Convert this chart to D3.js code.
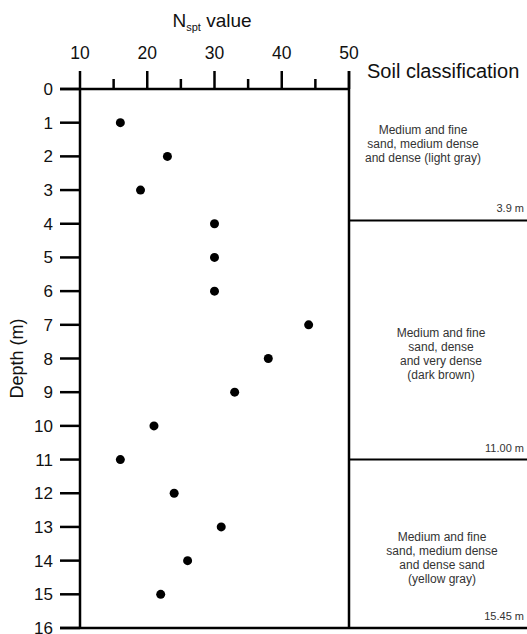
<!DOCTYPE html>
<html>
<head>
<meta charset="utf-8">
<script src="https://cdn.jsdelivr.net/npm/d3@7"></script>
<style>
	body { margin: 0; background: #fff; }
	text { font-family: "Liberation Sans", Arial, sans-serif; fill: #111; }
</style>
</head>
<body>
<svg id="chart" width="527" height="634"></svg>
<script>
// data
var depths = [1, 2, 3, 4, 5, 6, 7, 8, 9, 10, 11, 12, 13, 14, 15];
var nspt = [16, 23, 19, 30, 30, 30, 44, 38, 33, 21, 16, 24, 31, 26, 22];
var xTicks = [10, 20, 30, 40, 50];
var xMinor = [15, 25, 35, 45];
var yTicks = d3.range(0, 17);
var layerBottoms = [3.9, 11.0, 16];
var layerLabels = ['3.9 m', '11.00 m', '15.45 m'];
var layerTexts = [
	['Medium and fine', 'sand, medium dense', 'and dense (light gray)'],
	['Medium and fine', 'sand, dense', 'and very dense', '(dark brown)'],
	['Medium and fine', 'sand, medium dense', 'and dense sand', '(yellow gray)']
];
var layerTextTop = [1.34, 7.36, 13.42];
var layerTextX = [423, 441, 442];

(function () {
	var svg = d3.select('#chart');
	var pLeft = 80, pRight = 349, pTop = 89, pBottom = 628;

	var x = d3.scaleLinear().domain([10, 50]).range([pLeft, pRight]);
	var y = d3.scaleLinear().domain([0, 16]).range([pTop, pBottom]);

	var g = svg.append('g').attr('stroke', '#000').attr('stroke-width', 2.5);

	// top axis, major + minor ticks
	g.append('line').attr('x1', 60).attr('x2', pRight).attr('y1', pTop).attr('y2', pTop);
	g.selectAll('.maj').data(xTicks).enter().append('line')
		.attr('x1', function(d) { return x(d); }).attr('x2', function(d) { return x(d); })
		.attr('y1', pTop).attr('y2', pTop - 18);
	g.selectAll('.min').data(xMinor).enter().append('line')
		.attr('x1', function(d) { return x(d); }).attr('x2', function(d) { return x(d); })
		.attr('y1', pTop).attr('y2', pTop - 10);

	// left axis
	g.append('line').attr('x1', pLeft).attr('x2', pLeft).attr('y1', pTop).attr('y2', pBottom);
	g.selectAll('.yt').data(yTicks).enter().append('line')
		.attr('x1', 60).attr('x2', pLeft)
		.attr('y1', function(d) { return y(d); }).attr('y2', function(d) { return y(d); });

	// right border and bottom
	g.append('line').attr('x1', pRight).attr('x2', pRight).attr('y1', pTop - 18).attr('y2', pBottom);
	g.append('line').attr('x1', 60).attr('x2', 527).attr('y1', pBottom).attr('y2', pBottom);

	// layer boundaries
	g.selectAll('.lb').data(layerBottoms.slice(0, 2)).enter().append('line')
		.attr('stroke-width', 2)
		.attr('x1', pRight).attr('x2', 527)
		.attr('y1', function(d) { return y(d); }).attr('y2', function(d) { return y(d); });

	// tick labels
	svg.selectAll('.xl').data(xTicks).enter().append('text')
		.attr('x', function(d) { return x(d); }).attr('y', 59)
		.attr('text-anchor', 'middle').attr('font-size', 17.5)
		.text(function(d) { return d; });
	svg.selectAll('.yl').data(yTicks).enter().append('text')
		.attr('x', 53).attr('y', function(d) { return y(d) + 6; })
		.attr('text-anchor', 'end').attr('font-size', 17)
		.text(function(d) { return d; });

	// titles
	var t = svg.append('text').attr('x', 212).attr('y', 27).attr('text-anchor', 'middle').attr('font-size', 19);
	t.append('tspan').text('N');
	t.append('tspan').attr('font-size', 11).attr('dy', 4).text('spt');
	t.append('tspan').attr('dy', -4).text(' value');

	svg.append('text').attr('x', 367).attr('y', 78).attr('font-size', 20).text('Soil classification');

	svg.append('text').attr('transform', 'translate(23,' + y(8.0) + ') rotate(-90)')
		.attr('text-anchor', 'middle').attr('font-size', 18).text('Depth (m)');

	// soil layer descriptions
	layerTexts.forEach(function(lines, i) {
		var tx = svg.append('text').attr('text-anchor', 'middle').attr('font-size', 12).style('fill', '#333');
		lines.forEach(function(s, j) {
			tx.append('tspan').attr('x', layerTextX[i]).attr('y', y(layerTextTop[i]) + j * 14).text(s);
		});
		svg.append('text').attr('x', 524).attr('y', y(layerBottoms[i]) - 8)
			.attr('text-anchor', 'end').attr('font-size', 11).style('fill', '#333')
			.text(layerLabels[i]);
	});

	// points
	svg.append('g').selectAll('circle').data(depths).enter().append('circle')
		.attr('cx', function(d, i) { return x(nspt[i]); })
		.attr('cy', function(d) { return y(d); })
		.attr('r', 4.5).attr('fill', '#000');
})();
</script>
</body>
</html>
